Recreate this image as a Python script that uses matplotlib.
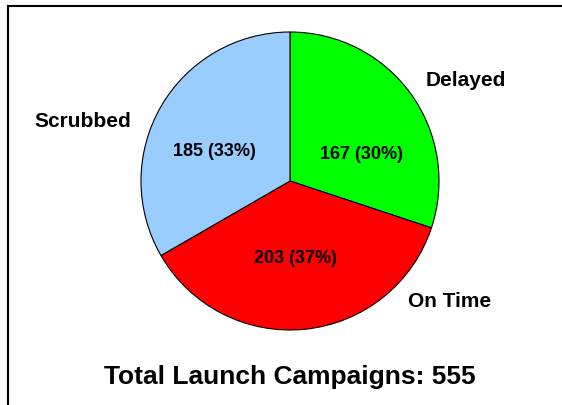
import matplotlib
matplotlib.use("Agg")
import matplotlib.pyplot as plt
from matplotlib.lines import Line2D

categories = ["Delayed", "On Time", "Scrubbed"]
counts = [167, 203, 185]
colors = ["#00FF00", "#FF0000", "#99CCFF"]
title = "Total Launch Campaigns: 555"

W, H = 562, 406
plt.rcParams['font.family'] = ['Liberation Sans', 'DejaVu Sans']

fig = plt.figure(figsize=(W / 100, H / 100), dpi=100)
ax = fig.add_axes([0, 0, 1, 1])

cx, cy, R = 290, H - 182, 149
wedges, _ = ax.pie(counts, colors=colors, startangle=90, counterclock=False,
                   center=(cx, cy), radius=R,
                   wedgeprops=dict(edgecolor="black", linewidth=0.8))

total = sum(counts)
# label placement (pixel x-centre, baseline y from the top of the figure)
name_pos = [(465.5, 86.5), (450, 307.5), (83, 127)]
value_pos = [(361, 159), (295, 263), (214.5, 156)]
for name, n, (nx, ny), (vx, vy) in zip(categories, counts, name_pos, value_pos):
    ax.text(nx, H - ny, name, ha="center", va="baseline", fontsize=15,
            fontweight="bold", color="black")
    ax.text(vx, H - vy, f"{n} ({n / total * 100:.0f}%)", ha="center", va="baseline",
            fontsize=13, fontweight="bold", color="black")

ax.text(290, H - 384, title, ha="center", va="baseline", fontsize=19,
        fontweight="bold", color="black")

ax.set_xlim(0, W)
ax.set_ylim(0, H)
ax.set_aspect("equal")
ax.axis("off")

# chart frame (left and top edges visible)
lw = 1.5
fig.add_artist(Line2D([8 / W, 8 / W], [0, 1 - 7 / H], transform=fig.transFigure,
                      color="black", linewidth=lw, solid_capstyle="projecting"))
fig.add_artist(Line2D([8 / W, 1], [1 - 7 / H, 1 - 7 / H], transform=fig.transFigure,
                      color="black", linewidth=lw, solid_capstyle="projecting"))

fig.savefig("out.png", dpi=100, facecolor="white")
